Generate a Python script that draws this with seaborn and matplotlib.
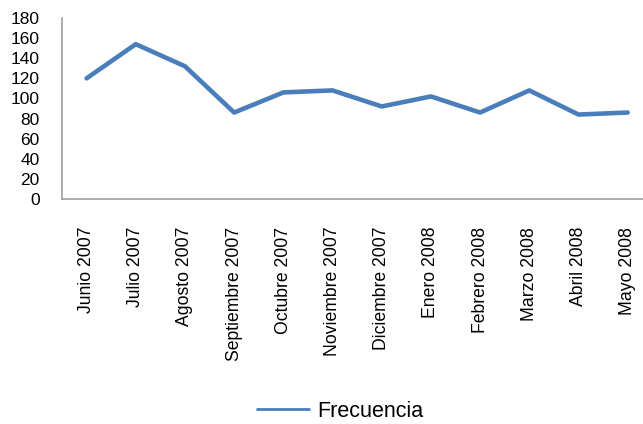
import pandas as pd
import seaborn as sns
import matplotlib.pyplot as plt

meses = ['Junio 2007', 'Julio 2007', 'Agosto 2007', 'Septiembre 2007', 'Octubre 2007',
         'Noviembre 2007', 'Diciembre 2007', 'Enero 2008', 'Febrero 2008', 'Marzo 2008',
         'Abril 2008', 'Mayo 2008']
frecuencia = [120, 154, 132, 86, 106, 108, 92, 102, 86, 108, 84, 86]
y_ticks = [0, 20, 40, 60, 80, 100, 120, 140, 160, 180]

df = pd.DataFrame({'Mes': meses, 'Frecuencia': frecuencia})

sns.set_theme(style='white')
plt.rcParams['font.family'] = ['Liberation Sans', 'DejaVu Sans']
plt.rcParams['text.color'] = 'black'
plt.rcParams['xtick.color'] = 'black'
plt.rcParams['ytick.color'] = 'black'

fig = plt.figure(figsize=(6.43, 4.24), dpi=100)
ax = fig.add_axes([0.0964, 0.5307, 0.918, 0.4268])
sns.lineplot(data=df, x='Mes', y='Frecuencia', sort=False, color='#4A7EBB',
             linewidth=3.3, label='Frecuencia', ax=ax, legend=False)

ax.set_ylim(0, 180)
ax.set_xlim(-0.5, len(meses) - 0.5)
ax.set_yticks(y_ticks)
ax.set_xticks(range(len(meses)))
ax.set_xticklabels(meses, rotation=90)
ax.tick_params(axis='x', labelsize=12.7, length=0, pad=20)
ax.tick_params(axis='y', labelsize=12.5, length=0, pad=16)
ax.set_xlabel('')
ax.set_ylabel('')
for side in ['top', 'right']:
    ax.spines[side].set_visible(False)
for side in ['left', 'bottom']:
    ax.spines[side].set_color('#A0A0A0')
    ax.spines[side].set_linewidth(1.2)

handles, labels = ax.get_legend_handles_labels()
leg = fig.legend(handles, labels, loc='center', bbox_to_anchor=(0.529, 0.03),
                 frameon=False, fontsize=15.5, handlelength=2.4, handletextpad=0.4)
for line in leg.get_lines():
    line.set_linewidth(2)

fig.savefig('out.png', dpi=100)
